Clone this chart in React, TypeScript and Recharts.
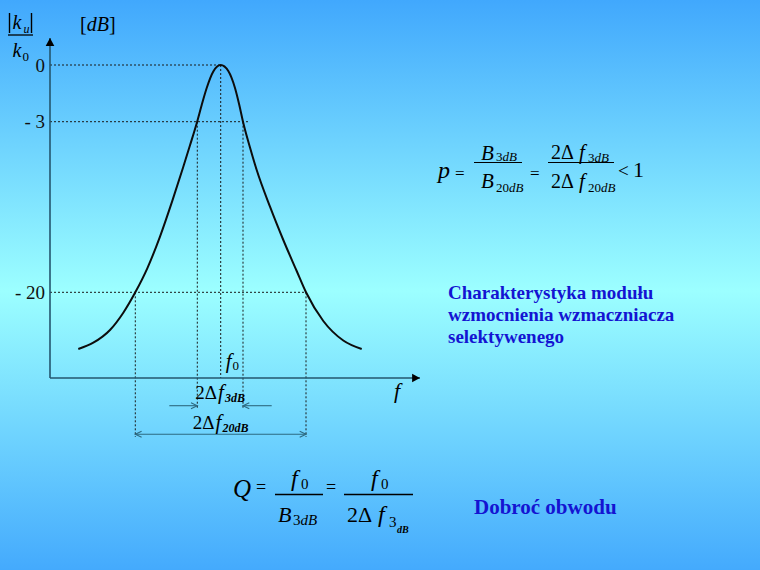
import React from 'react';
import { LineChart, Line, XAxis, YAxis, ReferenceLine } from 'recharts';

// Frequency (arbitrary units, axis origin = 0) and relative level (arbitrary units, x-axis = 0)
const FREQ = [2.83, 4.33, 6.0, 7.33, 8.53, 9.73, 11.0, 12.23, 13.3, 14.0, 14.73, 15.17, 15.67, 16.33, 17.07, 17.83, 18.5, 18.93, 19.3, 20.0, 20.67, 22.0, 23.33, 24.67, 25.6, 27.33, 29.33, 31.17];
const LEVEL = [2.9, 3.53, 4.8, 6.53, 8.57, 10.97, 14.14, 17.71, 21.03, 23.27, 25.68, 27.3, 29.0, 30.65, 31.3, 30.7, 29.0, 27.3, 25.63, 23.05, 20.8, 17.13, 13.8, 10.7, 8.57, 5.7, 3.75, 2.9];

// y-axis ticks: level positions and their dB labels
const TICK_LEVELS = [8.57, 25.63, 31.3];
const TICK_LABELS = ['- 20', '- 3', '0'];

// key frequencies
const F0 = 17.07;
const F3 = [14.73, 19.3];
const F20 = [8.53, 25.6];
const LEVEL_0DB = 31.3;
const LEVEL_3DB = 25.63;
const LEVEL_20DB = 8.57;
const LINE_3DB_END = 19.9;

// axis extents
const X_MAX = 37;
const Y_MAX = 34;

// guide extents below the axis
const F3_GUIDE_BOTTOM = -3.0;
const F20_GUIDE_BOTTOM = -5.9;
const F3_ARROW_Y = -2.77;
const F3_ARROW_OUTER = [11.93, 22.17];
const F20_ARROW_Y = -5.63;
const F3_LABEL_Y = -2.1;
const F20_LABEL_Y = -5.1;
const F0_LABEL_Y = 1.0;

const data = FREQ.map((f, i) => ({ f, level: LEVEL[i] }));

const SERIF = '"Liberation Serif", "Times New Roman", Times, serif';
const AXIS_COLOR = '#24566e';
const GUIDE = '#1a1a1a';
const ARROW_COLOR = '#2d6a80';
const BLUE = '#1414d2';

type Seg = { x1?: number; y1?: number; x2?: number; y2?: number };

function head(tx: number, ty: number, fx: number, fy: number, size: number, spread: number) {
  const ang = Math.atan2(ty - fy, tx - fx);
  const a1 = ang + Math.PI - spread;
  const a2 = ang + Math.PI + spread;
  return [
    [tx + size * Math.cos(a1), ty + size * Math.sin(a1)],
    [tx, ty],
    [tx + size * Math.cos(a2), ty + size * Math.sin(a2)],
  ];
}

const AxisArrow = (p: Seg) => {
  const { x1 = 0, y1 = 0, x2 = 0, y2 = 0 } = p;
  const h = head(x2, y2, x1, y1, 9, 0.5);
  return (
    <g>
      <line x1={x1} y1={y1} x2={x2} y2={y2} stroke={AXIS_COLOR} strokeWidth={1.6} />
      <polygon points={h.map((q) => q.join(',')).join(' ')} fill="#000" />
    </g>
  );
};

const OpenArrow = (p: Seg & { start?: boolean; end?: boolean }) => {
  const { x1 = 0, y1 = 0, x2 = 0, y2 = 0, start, end } = p;
  const hs = head(x1, y1, x2, y2, 7, 0.45);
  const he = head(x2, y2, x1, y1, 7, 0.45);
  return (
    <g fill="none" stroke={ARROW_COLOR} strokeWidth={1.1}>
      <line x1={x1} y1={y1} x2={x2} y2={y2} />
      {start && <polyline points={hs.map((q) => q.join(',')).join(' ')} />}
      {end && <polyline points={he.map((q) => q.join(',')).join(' ')} />}
    </g>
  );
};

const DeltaLabel = (p: Seg & { sub: string }) => {
  const { x1 = 0, y1 = 0, x2 = 0, sub } = p;
  return (
    <text x={(x1 + x2) / 2} y={y1} textAnchor="middle" fontFamily={SERIF} fontSize={19} fill="#000">
      2Δ<tspan fontStyle="italic" fontSize={21} dx={1}>f</tspan>
      <tspan fontSize={12} fontStyle="italic" fontWeight="bold" dy={3} dx={1}>{sub}</tspan>
    </text>
  );
};

const F0Label = (p: Seg) => {
  const { x1 = 0, y1 = 0 } = p;
  return (
    <text x={x1 + 5} y={y1} fontFamily={SERIF} fontSize={21} fill="#000">
      <tspan fontStyle="italic">f</tspan>
      <tspan fontSize={13} dy={2} dx={1}>0</tspan>
    </text>
  );
};

const FAxisLabel = (p: Seg) => {
  const { x2 = 0, y2 = 0 } = p;
  return (
    <text x={x2 - 26} y={y2 + 20} fontFamily={SERIF} fontSize={22} fontStyle="italic" fill="#000">f</text>
  );
};

const dotted = { stroke: GUIDE, strokeWidth: 1, strokeDasharray: '2 2', ifOverflow: 'visible' as const };

const Overlay = () => (
  <svg
    width={760}
    height={570}
    style={{ position: 'absolute', left: 0, top: 0, pointerEvents: 'none' }}
    fontFamily={SERIF}
  >
    {/* |k_u| / k_0   [dB] */}
    <line x1={9.5} y1={13} x2={9.5} y2={33} stroke="#000" strokeWidth={1.4} />
    <line x1={31.5} y1={13} x2={31.5} y2={33} stroke="#000" strokeWidth={1.4} />
    <text x={12.5} y={29} fontSize={20} fontStyle="italic">k</text>
    <text x={23.5} y={33} fontSize={12} fontStyle="italic">u</text>
    <line x1={8} y1={35} x2={33} y2={35} stroke="#000" strokeWidth={1.3} />
    <text x={12.5} y={57} fontSize={20} fontStyle="italic">k</text>
    <text x={22.5} y={61} fontSize={13}>0</text>
    <text x={80} y={31} fontSize={20}>
      [<tspan fontStyle="italic">dB</tspan>]
    </text>

    {/* p = B3dB / B20dB = 2Δf3dB / 2Δf20dB < 1 */}
    <text x={438} y={178} fontSize={24} fontStyle="italic">p</text>
    <text x={455} y={179} fontSize={17}>=</text>
    <text x={481} y={159.5} fontSize={21} fontStyle="italic">B</text>
    <text x={496} y={161} fontSize={13}>3<tspan fontStyle="italic">dB</tspan></text>
    <line x1={474} y1={162.5} x2={522} y2={162.5} stroke="#000" strokeWidth={1.2} />
    <text x={481} y={188} fontSize={21} fontStyle="italic">B</text>
    <text x={496} y={192} fontSize={13}>20<tspan fontStyle="italic">dB</tspan></text>
    <text x={530} y={179} fontSize={17}>=</text>
    <text x={551} y={159} fontSize={20}>2Δ</text>
    <text x={579} y={159} fontSize={21} fontStyle="italic">f</text>
    <text x={588} y={162} fontSize={13}>3<tspan fontStyle="italic">dB</tspan></text>
    <line x1={548} y1={162.5} x2={614} y2={162.5} stroke="#000" strokeWidth={1.2} />
    <text x={551} y={188} fontSize={20}>2Δ</text>
    <text x={579} y={188} fontSize={21} fontStyle="italic">f</text>
    <text x={588} y={192} fontSize={13}>20<tspan fontStyle="italic">dB</tspan></text>
    <text x={618} y={177} fontSize={19}>&lt;</text>
    <text x={633} y={177} fontSize={22}>1</text>

    {/* description */}
    <text x={448} y={299} fontSize={19} fontWeight="bold" fill={BLUE}>Charakterystyka modułu</text>
    <text x={448} y={321} fontSize={19} fontWeight="bold" fill={BLUE}>wzmocnienia wzmacznia{'c'}za</text>
    <text x={448} y={343} fontSize={19} fontWeight="bold" fill={BLUE}>selektywenego</text>

    {/* Q = f0 / B3dB = f0 / 2Δf3dB */}
    <text x={233} y={497} fontSize={25} fontStyle="italic">Q</text>
    <text x={256} y={493} fontSize={18}>=</text>
    <text x={291} y={486} fontSize={24} fontStyle="italic">f</text>
    <text x={301} y={489} fontSize={15}>0</text>
    <line x1={275} y1={494.5} x2={323} y2={494.5} stroke="#000" strokeWidth={1.3} />
    <text x={278} y={522} fontSize={22} fontStyle="italic">B</text>
    <text x={293} y={525} fontSize={15}>3<tspan fontStyle="italic">dB</tspan></text>
    <text x={326} y={493} fontSize={18}>=</text>
    <text x={371} y={486} fontSize={24} fontStyle="italic">f</text>
    <text x={381} y={489} fontSize={15}>0</text>
    <line x1={344} y1={494.5} x2={413} y2={494.5} stroke="#000" strokeWidth={1.3} />
    <text x={347} y={522} fontSize={22}>2Δ</text>
    <text x={378} y={522} fontSize={24} fontStyle="italic">f</text>
    <text x={389} y={527} fontSize={15}>3</text>
    <text x={397} y={533} fontSize={10} fontStyle="italic" fontWeight="bold">dB</text>
    <text x={474} y={514} fontSize={21} fontWeight="bold" fill={BLUE}>Dobroć obwodu</text>
  </svg>
);

export default function App() {
  return (
    <div
      style={{
        position: 'absolute',
        left: 0,
        top: 0,
        width: 760,
        height: 570,
        overflow: 'hidden',
        background: 'linear-gradient(to bottom, #41a8fd 0%, #9cffff 51%, #44aafd 100%)',
      }}
    >
      <LineChart
        width={760}
        height={570}
        data={data}
        margin={{ top: 38, right: 340, bottom: 192, left: 10 }}
      >
        <XAxis dataKey="f" type="number" domain={[0, X_MAX]} hide height={0} />
        <YAxis
          type="number"
          domain={[0, Y_MAX]}
          ticks={TICK_LEVELS}
          interval={0}
          width={40}
          axisLine={false}
          tickLine={false}
          tickSize={0}
          tickMargin={5}
          tickFormatter={(v: number) => TICK_LABELS[TICK_LEVELS.indexOf(v)]}
          tick={{ fontSize: 19, fill: '#111', fontFamily: SERIF }}
        />

        {/* horizontal dotted guides */}
        <ReferenceLine segment={[{ x: 0, y: LEVEL_0DB }, { x: F0, y: LEVEL_0DB }]} {...dotted} />
        <ReferenceLine segment={[{ x: 0, y: LEVEL_3DB }, { x: LINE_3DB_END, y: LEVEL_3DB }]} {...dotted} />
        <ReferenceLine segment={[{ x: 0, y: LEVEL_20DB }, { x: F20[1], y: LEVEL_20DB }]} {...dotted} />
        {/* vertical dotted guides */}
        <ReferenceLine segment={[{ x: F0, y: LEVEL_0DB }, { x: F0, y: 0 }]} {...dotted} />
        <ReferenceLine segment={[{ x: F3[0], y: LEVEL_3DB }, { x: F3[0], y: F3_GUIDE_BOTTOM }]} {...dotted} />
        <ReferenceLine segment={[{ x: F3[1], y: LEVEL_3DB }, { x: F3[1], y: F3_GUIDE_BOTTOM }]} {...dotted} />
        <ReferenceLine segment={[{ x: F20[0], y: LEVEL_20DB }, { x: F20[0], y: F20_GUIDE_BOTTOM }]} {...dotted} />
        <ReferenceLine segment={[{ x: F20[1], y: LEVEL_20DB }, { x: F20[1], y: F20_GUIDE_BOTTOM }]} {...dotted} />

        {/* axes with arrowheads */}
        <ReferenceLine
          segment={[{ x: 0, y: 0 }, { x: 0, y: Y_MAX }]}
          ifOverflow="visible"
          shape={(p: Seg) => <AxisArrow {...p} />}
        />
        <ReferenceLine
          segment={[{ x: 0, y: 0 }, { x: X_MAX, y: 0 }]}
          ifOverflow="visible"
          shape={(p: Seg) => (
            <g>
              <AxisArrow {...p} />
              <FAxisLabel {...p} />
            </g>
          )}
        />

        {/* bandwidth arrows */}
        <ReferenceLine
          segment={[{ x: F3_ARROW_OUTER[0], y: F3_ARROW_Y }, { x: F3[0], y: F3_ARROW_Y }]}
          ifOverflow="visible"
          shape={(p: Seg) => <OpenArrow {...p} end />}
        />
        <ReferenceLine
          segment={[{ x: F3_ARROW_OUTER[1], y: F3_ARROW_Y }, { x: F3[1], y: F3_ARROW_Y }]}
          ifOverflow="visible"
          shape={(p: Seg) => <OpenArrow {...p} end />}
        />
        <ReferenceLine
          segment={[{ x: F20[0], y: F20_ARROW_Y }, { x: F20[1], y: F20_ARROW_Y }]}
          ifOverflow="visible"
          shape={(p: Seg) => <OpenArrow {...p} start end />}
        />

        {/* labels */}
        <ReferenceLine
          segment={[{ x: F3[0], y: F3_LABEL_Y }, { x: F3[1], y: F3_LABEL_Y }]}
          ifOverflow="visible"
          shape={(p: Seg) => <DeltaLabel {...p} sub="3dB" />}
        />
        <ReferenceLine
          segment={[{ x: F20[0], y: F20_LABEL_Y }, { x: F20[1], y: F20_LABEL_Y }]}
          ifOverflow="visible"
          shape={(p: Seg) => <DeltaLabel {...p} sub="20dB" />}
        />
        <ReferenceLine
          segment={[{ x: F0, y: F0_LABEL_Y }, { x: F0, y: F0_LABEL_Y }]}
          ifOverflow="visible"
          shape={(p: Seg) => <F0Label {...p} />}
        />

        <Line
          dataKey="level"
          type="monotone"
          stroke="#0d0d0d"
          strokeWidth={2}
          dot={false}
          activeDot={false}
          isAnimationActive={false}
        />
      </LineChart>
      <Overlay />
    </div>
  );
}
